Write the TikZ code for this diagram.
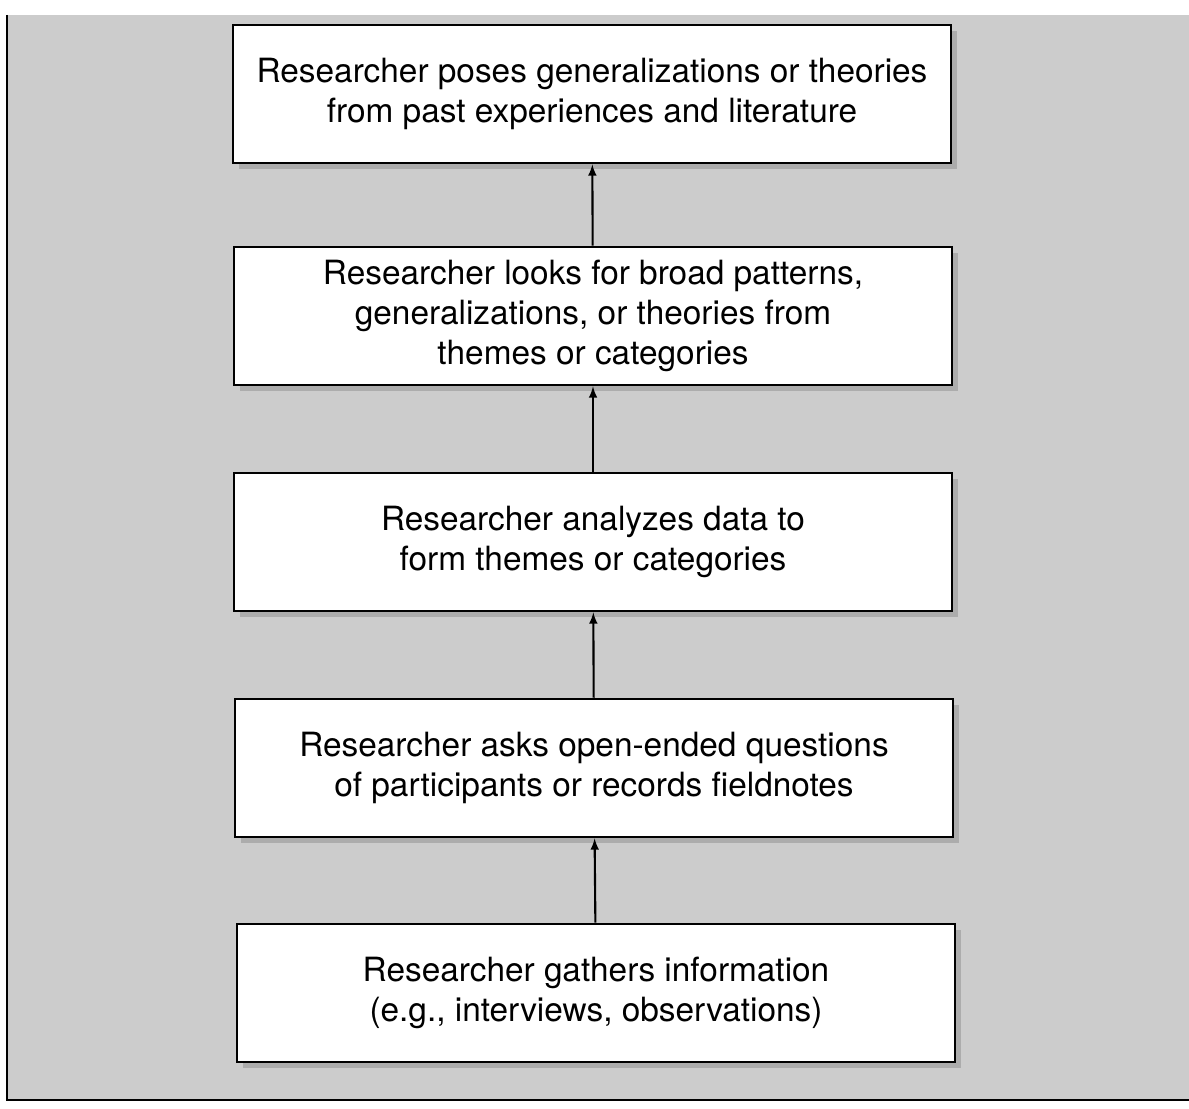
\documentclass[tikz,border=0pt]{standalone}
\usepackage{fontspec}
\setmainfont{TeX Gyre Heros}
\usetikzlibrary{arrows,positioning,shadows}

\begin{document}
\begin{tikzpicture}[x=0.02cm, y=-0.02cm, >=latex, line width=1.6pt,
  stage node/.style={rectangle,draw,fill=white,minimum width=14.36cm,minimum height=2.76cm,
    align=center,font=\fontsize{19}{22.8}\selectfont,
    drop shadow={shadow xshift=0.12cm,shadow yshift=-0.12cm,fill=gray!65,opacity=1}}]%
\useasboundingbox (0,0) rectangle (1189,1108);
% background and frame
\fill[gray!40] (7,15) rectangle (1189,1100);
\draw[line width=1.4pt] (7,15) -- (7,1100) -- (1189,1100);
\begin{scope}
\node[stage node] (theories) at (592,94) {Researcher poses generalizations or theories\\from past experiences and literature};
\node[stage node] (patterns) at (593,316) {Researcher looks for broad patterns,\\generalizations, or theories from\\themes or categories};
\node[stage node] (themes) at (593,542) {Researcher analyzes data to\\form themes or categories};
\node[stage node] (questions) at (594,768) {Researcher asks open-ended questions\\of participants or records fieldnotes};
\node[stage node] (gathers) at (596,993) {Researcher gathers information\\(e.g., interviews, observations)};
\end{scope}
\begin{scope}[line width=1.2pt]
\draw[->] (gathers) -- (questions);
\draw[->] (questions) -- (themes);
\draw[->] (themes) -- (patterns);
\draw[->] (patterns) -- (theories);
\end{scope}
\end{tikzpicture}
\end{document}
